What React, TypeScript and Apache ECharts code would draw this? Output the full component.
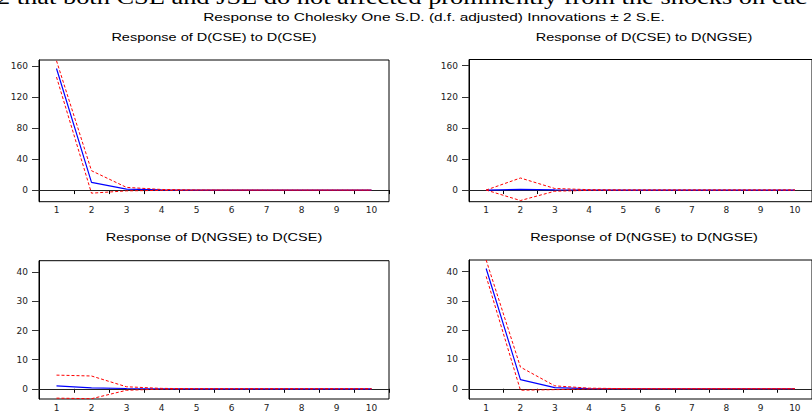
import React, { useEffect, useRef } from "react";
import * as echarts from "echarts";

const periods = ["1", "2", "3", "4", "5", "6", "7", "8", "9", "10"];

// Response of D(CSE) to D(CSE)
const cseCseResp = [157, 10, 1.3, 0.2, 0.05, 0, 0, 0, 0, 0];
const cseCseUpper = [167, 25, 3.5, 0.8, 0.2, 0.05, 0, 0, 0, 0];
const cseCseLower = [146, -4, -1, -0.4, -0.1, 0, 0, 0, 0, 0];

// Response of D(CSE) to D(NGSE)
const cseNgseResp = [0, 0.8, 0.3, 0.05, 0, 0, 0, 0, 0, 0];
const cseNgseUpper = [0, 15.5, 2, 0.5, 0.1, 0, 0, 0, 0, 0];
const cseNgseLower = [0, -13.5, -1.5, -0.4, -0.1, 0, 0, 0, 0, 0];

// Response of D(NGSE) to D(CSE)
const ngseCseResp = [1.0, 0.3, 0.1, 0.02, 0, 0, 0, 0, 0, 0];
const ngseCseUpper = [4.7, 4.4, 0.7, 0.15, 0.03, 0, 0, 0, 0, 0];
const ngseCseLower = [-3.2, -3.4, -0.5, -0.1, -0.02, 0, 0, 0, 0, 0];

// Response of D(NGSE) to D(NGSE)
const ngseNgseResp = [41.1, 3.1, 0.4, 0.05, 0, 0, 0, 0, 0, 0];
const ngseNgseUpper = [44, 7.4, 1.0, 0.2, 0.04, 0, 0, 0, 0, 0];
const ngseNgseLower = [38.4, -0.5, -0.3, -0.05, 0, 0, 0, 0, 0, 0];

const topTicks = [0, 40, 80, 120, 160];
const bottomTicks = [0, 10, 20, 30, 40];

const captionText =
  "2 that both CSE and JSE do not affected prominently from the shocks on eac";
const mainTitle =
  "Response to Cholesky One S.D. (d.f. adjusted) Innovations \u00b1 2 S.E.";
const panelTitles = [
  "Response of D(CSE) to D(CSE)",
  "Response of D(CSE) to D(NGSE)",
  "Response of D(NGSE) to D(CSE)",
  "Response of D(NGSE) to D(NGSE)",
];

const panels = [
  { resp: cseCseResp, upper: cseCseUpper, lower: cseCseLower, min: -15, max: 168, ticks: topTicks },
  { resp: cseNgseResp, upper: cseNgseUpper, lower: cseNgseLower, min: -15, max: 168, ticks: topTicks },
  { resp: ngseCseResp, upper: ngseCseUpper, lower: ngseCseLower, min: -3.5, max: 44, ticks: bottomTicks },
  { resp: ngseNgseResp, upper: ngseNgseUpper, lower: ngseNgseLower, min: -3.5, max: 44, ticks: bottomTicks },
];

const gridBoxes = [
  { left: 39, top: 60, width: 350, height: 141.7 },
  { left: 469, top: 59.5, width: 350, height: 142.2 },
  { left: 39, top: 260.7, width: 350, height: 141 },
  { left: 469, top: 260, width: 350, height: 141.7 },
];

const titleCenters = [
  { x: 214, y: 37.5 },
  { x: 644, y: 37.5 },
  { x: 214, y: 238 },
  { x: 644, y: 238 },
];

const sansFont = "'Liberation Sans', Arial, sans-serif";
const labelFont = "'DejaVu Sans', sans-serif";

export default function App() {
  const ref = useRef<HTMLDivElement>(null);

  useEffect(() => {
    if (!ref.current) return;
    const chart = echarts.init(ref.current, undefined, { renderer: "svg" });

    const grid = gridBoxes.map((g) => ({
      ...g,
      show: true,
      borderColor: "#000",
      borderWidth: 1,
      backgroundColor: "transparent",
      containLabel: false,
    }));

    const xAxis = panels.map((_, i) => ({
      type: "category",
      gridIndex: i,
      data: periods,
      boundaryGap: true,
      axisLine: { show: true, lineStyle: { color: "#000", width: 1 } },
      axisTick: { show: true, alignWithLabel: false, length: 4, lineStyle: { color: "#000" } },
      axisLabel: { fontSize: 9, fontFamily: labelFont, color: "#222", margin: 4 },
      splitLine: { show: false },
    }));

    const yAxis = panels.map((p, i) => ({
      type: "value",
      gridIndex: i,
      min: p.min,
      max: p.max,
      axisLine: { show: true, lineStyle: { color: "#000", width: 1 } },
      axisTick: {
        show: true,
        length: 7,
        customValues: p.ticks,
        lineStyle: { color: "#333" },
      },
      axisLabel: {
        fontSize: 9,
        fontFamily: labelFont,
        color: "#222",
        margin: 11,
        customValues: p.ticks,
      },
      splitLine: { show: false },
    }));

    const series: any[] = [];
    panels.forEach((p, i) => {
      series.push({
        type: "line",
        xAxisIndex: i,
        yAxisIndex: i,
        data: p.resp,
        symbol: "none",
        lineStyle: { color: "#0000ff", width: 1.2 },
        z: 3,
        markLine: {
          silent: true,
          symbol: ["none", "none"],
          label: { show: false },
          lineStyle: { color: "#222", type: "solid", width: 1 },
          data: [{ yAxis: 0 }],
          z: 1,
        },
      });
      series.push({
        type: "line",
        xAxisIndex: i,
        yAxisIndex: i,
        data: p.upper,
        symbol: "none",
        lineStyle: { color: "#ff0000", width: 1, type: [3, 2] },
        z: 4,
      });
      series.push({
        type: "line",
        xAxisIndex: i,
        yAxisIndex: i,
        data: p.lower,
        symbol: "none",
        lineStyle: { color: "#ff0000", width: 1, type: [3, 2] },
        z: 4,
      });
    });

    const graphic: any[] = [
      {
        type: "text",
        x: -3,
        y: 7.5,
        scaleX: 1.32,
        style: {
          text: captionText,
          fontSize: 20,
          fontFamily: "'Liberation Serif', 'Times New Roman', serif",
          fill: "#000",
          align: "left",
          verticalAlign: "bottom",
        },
      },
      {
        type: "text",
        x: 434,
        y: 17.5,
        scaleX: 1.54,
        style: {
          text: mainTitle,
          fontSize: 10,
          fontFamily: sansFont,
          fill: "#000",
          align: "center",
          verticalAlign: "middle",
        },
      },
      ...panelTitles.map((t, i) => ({
        type: "text",
        x: titleCenters[i].x,
        y: titleCenters[i].y,
        scaleX: 1.45,
        style: {
          text: t,
          fontSize: 10,
          fontFamily: sansFont,
          fill: "#000",
          align: "center",
          verticalAlign: "middle",
        },
      })),
    ];

    chart.setOption({
      animation: false,
      backgroundColor: "#fff",
      grid,
      xAxis,
      yAxis,
      series,
      graphic,
    });

    return () => {
      chart.dispose();
    };
  }, []);

  return (
    <div
      ref={ref}
      style={{ position: "fixed", left: 0, top: 0, width: 812, height: 412 }}
    />
  );
}
